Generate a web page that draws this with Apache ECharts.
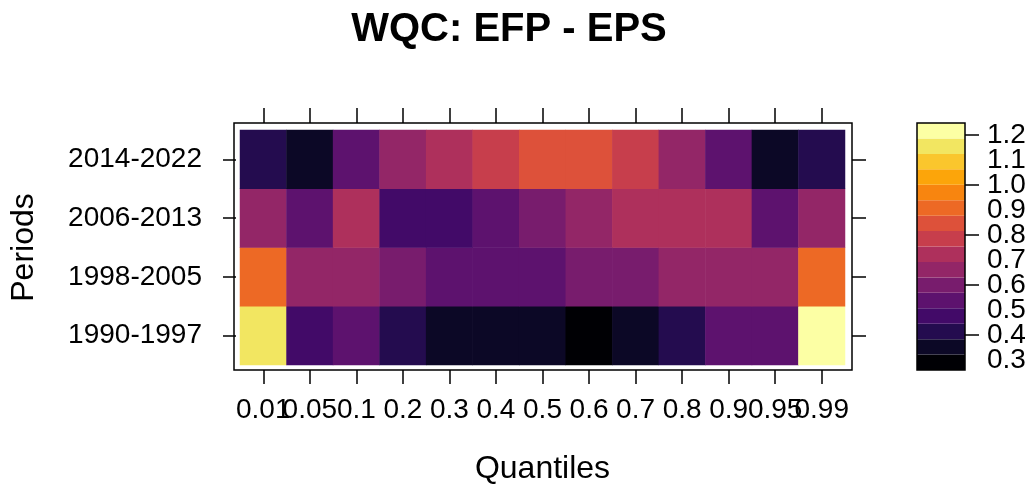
<!DOCTYPE html>
<html>
<head>
<meta charset="utf-8">
<script src="https://cdn.jsdelivr.net/npm/echarts@6/dist/echarts.min.js"></script>
<style>
  html, body { margin: 0; padding: 0; background: #ffffff; }
  #chart { width: 1034px; height: 492px; }
</style>
</head>
<body>
<div id="chart"></div>
<script>
// Quantile levels (columns) and sample periods (rows, bottom to top)
const quantiles = ['0.01', '0.05', '0.1', '0.2', '0.3', '0.4', '0.5', '0.6', '0.7', '0.8', '0.9', '0.95', '0.99'];
const periods = ['1990-1997', '1998-2005', '2006-2013', '2014-2022'];

// Wavelet quantile correlation, EFP vs EPS, one array per period
const wqc1990 = [1.16, 0.47, 0.54, 0.42, 0.36, 0.35, 0.34, 0.27, 0.33, 0.41, 0.55, 0.54, 1.24];
const wqc1998 = [0.91, 0.67, 0.66, 0.61, 0.55, 0.54, 0.53, 0.59, 0.60, 0.65, 0.67, 0.66, 0.90];
const wqc2006 = [0.66, 0.53, 0.72, 0.48, 0.47, 0.54, 0.60, 0.65, 0.72, 0.73, 0.71, 0.54, 0.66];
const wqc2014 = [0.42, 0.35, 0.54, 0.66, 0.73, 0.79, 0.85, 0.84, 0.78, 0.67, 0.55, 0.34, 0.41];
const rows = [wqc1990, wqc1998, wqc2006, wqc2014];

// Colour key: range, tick labels and the 16 inferno levels
const keyMin = 0.26;
const keyMax = 1.248;
const keyTicks = [0.3, 0.4, 0.5, 0.6, 0.7, 0.8, 0.9, 1.0, 1.1, 1.2];
const inferno16 = ['#000004', '#0C0826', '#240C4F', '#420A68', '#5D126E', '#781C6D', '#932667', '#AE305C',
                   '#C73E4C', '#DD513A', '#ED6925', '#F8850F', '#FCA50A', '#FAC62D', '#F2E661', '#FCFFA4'];

const nLev = inferno16.length;
const breaks = [];
for (let i = 0; i <= nLev; i++) breaks.push(keyMin + (keyMax - keyMin) * i / nLev);

const pieces = inferno16.map((c, i) => (
  i === nLev - 1 ? { gte: breaks[i], lte: breaks[i + 1] + 1e-9, color: c }
                 : { gte: breaks[i], lt: breaks[i + 1], color: c }
));

const heatData = [];
rows.forEach((vals, yi) => vals.forEach((v, xi) => heatData.push([xi, yi, v])));

const keyData = inferno16.map((c, i) => [breaks[i], breaks[i + 1], i]);

// The key labels sit close together; they are split over two overlaid axes
// so that neither axis drops a label for crowding.
const keyTicksA = keyTicks.filter((v, i) => i % 2 === 0);
const keyTicksB = keyTicks.filter((v, i) => i % 2 === 1);

const FONT = '"Liberation Sans", Arial, Helvetica, sans-serif';
const tickStyle = { color: '#000', width: 1.5 };

function keyAxis(ticks) {
  return {
    gridIndex: 1, type: 'value', min: keyMin, max: keyMax, position: 'right',
    axisLine: { show: false },
    axisTick: { show: true, length: 14, lineStyle: tickStyle, customValues: ticks },
    axisLabel: {
      color: '#000', fontSize: 28, fontFamily: FONT, margin: 22,
      showMinLabel: true, showMaxLabel: true,
      customValues: ticks, formatter: v => Number(v).toFixed(1)
    },
    splitLine: { show: false }
  };
}

const chart = echarts.init(document.getElementById('chart'), null, { renderer: 'canvas' });
chart.setOption({
  animation: false,
  backgroundColor: '#ffffff',
  textStyle: { fontFamily: FONT, color: '#000' },
  grid: [
    { left: 238, top: 130, width: 607, height: 235 },
    { left: 917, top: 123, width: 48, height: 247 }
  ],
  xAxis: [
    {
      gridIndex: 0, type: 'category', data: quantiles, position: 'bottom', offset: 5,
      axisLine: { show: false },
      axisTick: { show: true, alignWithLabel: true, length: 14, lineStyle: tickStyle },
      axisLabel: { color: '#000', fontSize: 28, fontFamily: FONT, margin: 26, interval: 0, hideOverlap: false },
      splitLine: { show: false },
      name: 'Quantiles', nameLocation: 'middle', nameGap: 83,
      nameTextStyle: { fontSize: 32, fontFamily: FONT, color: '#000' }
    },
    {
      gridIndex: 0, type: 'category', data: quantiles, position: 'top', offset: 7,
      axisLine: { show: false },
      axisTick: { show: true, alignWithLabel: true, length: 15, lineStyle: tickStyle },
      axisLabel: { show: false },
      splitLine: { show: false }
    },
    { gridIndex: 1, type: 'value', min: 0, max: 1, show: false }
  ],
  yAxis: [
    {
      gridIndex: 0, type: 'category', data: periods, position: 'left', offset: 4,
      axisLine: { show: false },
      axisTick: { show: true, alignWithLabel: true, length: 13, lineStyle: tickStyle },
      axisLabel: { color: '#000', fontSize: 28, fontFamily: FONT, margin: 34 },
      splitLine: { show: false },
      name: 'Periods', nameLocation: 'middle', nameGap: 196, nameRotate: 90,
      nameTextStyle: { fontSize: 32, fontFamily: FONT, color: '#000' }
    },
    {
      gridIndex: 0, type: 'category', data: periods, position: 'right', offset: 7,
      axisLine: { show: false },
      axisTick: { show: true, alignWithLabel: true, length: 14, lineStyle: tickStyle },
      axisLabel: { show: false },
      splitLine: { show: false }
    },
    keyAxis(keyTicksA),
    keyAxis(keyTicksB)
  ],
  visualMap: {
    type: 'piecewise', show: false, dimension: 2, seriesIndex: 0, pieces: pieces
  },
  series: [
    {
      type: 'heatmap', xAxisIndex: 0, yAxisIndex: 0, data: heatData,
      itemStyle: { borderWidth: 0 },
      emphasis: { disabled: true }
    },
    {
      type: 'custom', xAxisIndex: 2, yAxisIndex: 2, data: keyData,
      encode: { y: [0, 1] },
      renderItem: (params, api) => {
        const p0 = api.coord([0, api.value(1)]);
        const p1 = api.coord([1, api.value(0)]);
        return {
          type: 'rect',
          shape: { x: p0[0], y: p0[1], width: p1[0] - p0[0], height: p1[1] - p0[1] },
          style: { fill: inferno16[api.value(2)], stroke: null }
        };
      }
    }
  ],
  graphic: [
    {
      type: 'text', x: 509, y: 30, z: 100,
      style: {
        text: 'WQC: EFP - EPS', fontSize: 40, fontWeight: 'bold', fontFamily: FONT, fill: '#000',
        align: 'center', verticalAlign: 'middle', textAlign: 'center', textVerticalAlign: 'middle'
      }
    },
    {
      type: 'rect', z: 100, silent: true,
      shape: { x: 234, y: 123, width: 618, height: 247 },
      style: { fill: 'none', stroke: '#000', lineWidth: 1.5 }
    },
    {
      type: 'rect', z: 100, silent: true,
      shape: { x: 917, y: 123, width: 48, height: 247 },
      style: { fill: 'none', stroke: '#000', lineWidth: 1.5 }
    }
  ]
});
</script>
</body>
</html>
